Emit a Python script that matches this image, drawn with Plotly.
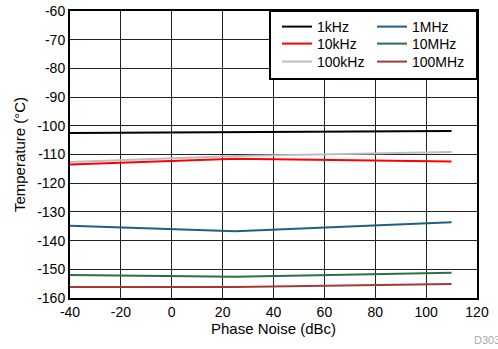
import plotly.graph_objects as go

x_temp = [-40, 25, 110]
series_names = ["1kHz", "10kHz", "100kHz", "1MHz", "10MHz", "100MHz"]
v_1k = [-102.5, -102.3, -101.8]
v_10k = [-113.5, -111.5, -112.4]
v_100k = [-112.6, -110.5, -109.1]
v_1M = [-134.8, -136.7, -133.6]
v_10M = [-152.0, -152.6, -151.2]
v_100M = [-156.2, -156.2, -155.1]
colors = ["#000000", "#FF0000", "#BDBDBD", "#1F5F7F", "#2B7047", "#A63737"]
x_ticks = [-40, -20, 0, 20, 40, 60, 80, 100, 120]
y_ticks = [-160, -150, -140, -130, -120, -110, -100, -90, -80, -70, -60]

font = "Liberation Sans, Arial, sans-serif"
W, H = 498, 349
# plot area in window pixels
PL, PR, PT, PB = 70, 477, 11, 298
L, R, T, B = PL, W - PR, PT, H - PB
pw = PR - PL
ph = PB - PT


def px_x(p):
    return (p - PL) / pw


def px_y(p):
    return (PB - p) / ph


# legend slots (pixel positions of each legend entry)
legend_x_px = [277, 277, 277, 372, 372, 372]
legend_y_px = [27, 44, 62, 27, 44, 62]

values = [v_1k, v_10k, v_100k, v_1M, v_10M, v_100M]
fig = go.Figure()
legend_layout = {}
for i, (name, vals, c) in enumerate(zip(series_names, values, colors)):
    key = "legend" if i == 0 else f"legend{i + 1}"
    fig.add_trace(go.Scatter(
        x=x_temp, y=vals, mode="lines", name=name,
        line=dict(color=c, width=2),
        legend=key, showlegend=True,
    ))
    legend_layout[key] = dict(
        x=px_x(legend_x_px[i]), y=px_y(legend_y_px[i]),
        xanchor="left", yanchor="middle",
        bgcolor="rgba(0,0,0,0)", borderwidth=0, orientation="v",
        font=dict(family=font, size=14, color="black"), itemwidth=30,
    )

fig.add_shape(type="rect", xref="paper", yref="paper",
              x0=px_x(270), x1=1, y0=px_y(79), y1=1,
              line=dict(color="black", width=2), fillcolor="white", layer="above")

fig.add_annotation(text="D303", xref="paper", yref="paper",
                   x=px_x(472), y=px_y(340), xanchor="left", yanchor="middle",
                   showarrow=False, font=dict(family=font, size=11, color="#AAAAAA"))

fig.update_layout(
    width=W, height=H,
    margin=dict(l=L, r=R, t=T, b=B, autoexpand=False),
    showlegend=True,
    paper_bgcolor="white", plot_bgcolor="white",
    font=dict(family=font, size=14, color="black"),
    **legend_layout,
    xaxis=dict(
        range=[-40, 120], tickvals=x_ticks, ticktext=[str(v) for v in x_ticks],
        showgrid=True, gridcolor="#222222", gridwidth=1,
        showline=True, linecolor="black", linewidth=2, mirror=True, zeroline=False,
        ticks="", automargin=False,
        title=dict(text="Phase Noise (dBc)", standoff=2, font=dict(size=15)),
        tickfont=dict(size=14),
    ),
    yaxis=dict(
        range=[-160, -60], tickvals=y_ticks, ticktext=[str(v) for v in y_ticks],
        showgrid=True, gridcolor="#222222", gridwidth=1,
        showline=True, linecolor="black", linewidth=2, mirror=True, zeroline=False,
        ticks="", automargin=False,
        title=dict(text="Temperature (°C)", standoff=8, font=dict(size=15)),
        tickfont=dict(size=14),
    ),
)

fig.write_html(
    "out.html",
    config={"displayModeBar": False},
    post_script="document.body.style.margin='0';document.body.style.overflow='hidden';",
)
